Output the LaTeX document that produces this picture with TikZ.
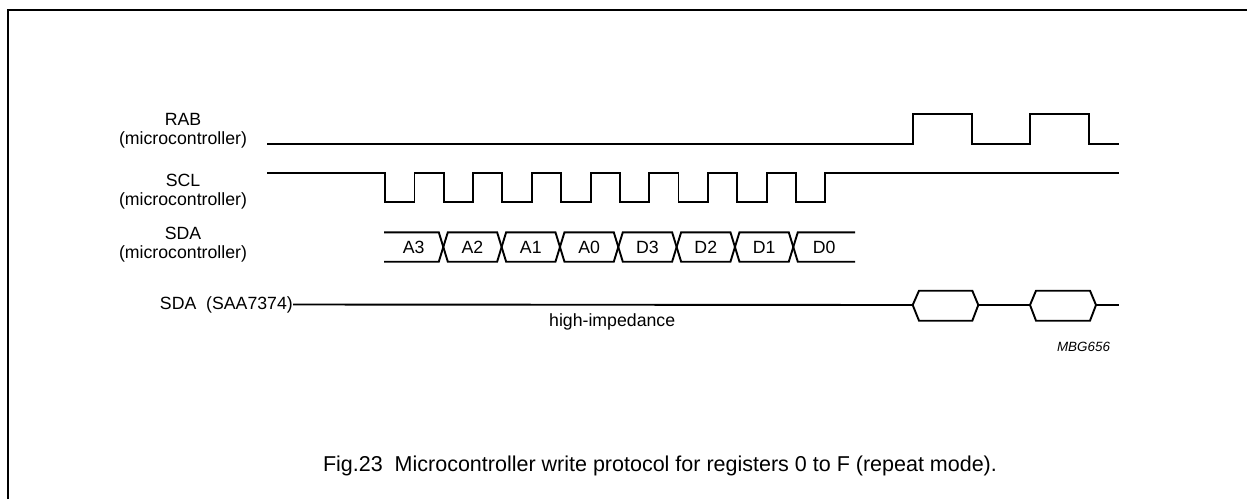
\documentclass[tikz,border=0pt]{standalone}
\usepackage{fontspec}
\setmainfont{Liberation Sans}
\begin{document}
\begin{tikzpicture}[x=1pt,y=-1pt,
  sig/.style={line width=1.9pt, line join=miter, line cap=butt},
  frameline/.style={line width=2pt},
  lbl/.style={font=\fontsize{17.7}{19}\selectfont, align=center, inner sep=0pt},
  celltxt/.style={font=\fontsize{17.7}{19}\selectfont, inner sep=0pt},
  captxt/.style={font=\fontsize{21.5}{24}\selectfont, inner sep=0pt},
  codetxt/.style={font=\fontsize{13.4}{15}\selectfont\itshape, inner sep=0pt}]
\useasboundingbox (0,0) rectangle (1247,499);
% frame
\draw[frameline] (7.5,499) -- (7.5,10) -- (1247,10);
% labels
\node[lbl] (rabl) at (183,130.5) {RAB\\(microcontroller)};
\node[lbl] (scll) at (183,191.7) {SCL\\(microcontroller)};
\node[lbl] (sdal) at (183,244.8) {SDA\\(microcontroller)};
\node[lbl, anchor=east] (saal) at (293,304.5) {SDA\hspace{0.556em}(SAA7374)};
% RAB
\coordinate (rabs) at (267,144);
\coordinate (rabe) at (1118.7,144);
\draw[sig] (rabs) -- (912.7,144) -- (912.7,114) -- (972,114) -- (972,144)
  -- (1030,144) -- (1030,114) -- (1089,114) -- (1089,144) -- (rabe);
% SCL
\coordinate (scls) at (267,173.3);
\coordinate (scle) at (1118.7,173.3);
\draw[sig] (scls) -- (385,173.3)
  \foreach \i in {0,...,7}{ -- ({385+58.7*\i},173.3) -- ({385+58.7*\i},202.3)
    -- ({414.5+58.7*\i},202.3) -- ({414.5+58.7*\i},173.3) } -- (scle);
% SDA bus
\draw[sig] (384,232.3) -- (438.8,232.3) -- (447.8,261.7) -- (497.13,261.7) -- (506.13,232.3)
  -- (555.46,232.3) -- (564.46,261.7) -- (613.79,261.7) -- (622.79,232.3)
  -- (672.12,232.3) -- (681.12,261.7) -- (730.45,261.7) -- (739.45,232.3)
  -- (788.78,232.3) -- (797.78,261.7) -- (855,261.7);
\draw[sig] (384,261.7) -- (438.8,261.7) -- (447.8,232.3) -- (497.13,232.3) -- (506.13,261.7)
  -- (555.46,261.7) -- (564.46,232.3) -- (613.79,232.3) -- (622.79,261.7)
  -- (672.12,261.7) -- (681.12,232.3) -- (730.45,232.3) -- (739.45,261.7)
  -- (788.78,261.7) -- (797.78,232.3) -- (855,232.3);
\node[celltxt] (ca3) at (413.7,247) {A3};
\node[celltxt] (ca2) at (472.5,247) {A2};
\node[celltxt] (ca1) at (530.8,247) {A1};
\node[celltxt] (ca0) at (589.1,247) {A0};
\node[celltxt] (cd3) at (647.5,247) {D3};
\node[celltxt] (cd2) at (705.8,247) {D2};
\node[celltxt] (cd1) at (764.1,247) {D1};
\node[celltxt] (cd0) at (824.1,247) {D0};
% SDA SAA7374
\draw[sig] (saal.east) -- (912.7,305);
\draw[sig] (912.7,305) -- (919,290.7) -- (972.3,290.7) -- (978.3,305) -- (972.3,320.7) -- (919,320.7) -- cycle;
\draw[sig] (978.3,305) -- (1030,305);
\draw[sig] (1030,305) -- (1036,290.7) -- (1090,290.7) -- (1096,305) -- (1090,320.7) -- (1036,320.7) -- cycle;
\coordinate (saae) at (1118.7,305);
\draw[sig] (1096,305) -- (saae);
\node[celltxt, anchor=base west] (hiz) at (549,326) {high-impedance};
\node[codetxt] (mbg) at (1083.5,347) {MBG656};
\node[captxt] (cap) at (660,466) {Fig.23\hspace{0.556em}Microcontroller write protocol for registers 0 to F (repeat mode).};
\end{tikzpicture}
\end{document}
